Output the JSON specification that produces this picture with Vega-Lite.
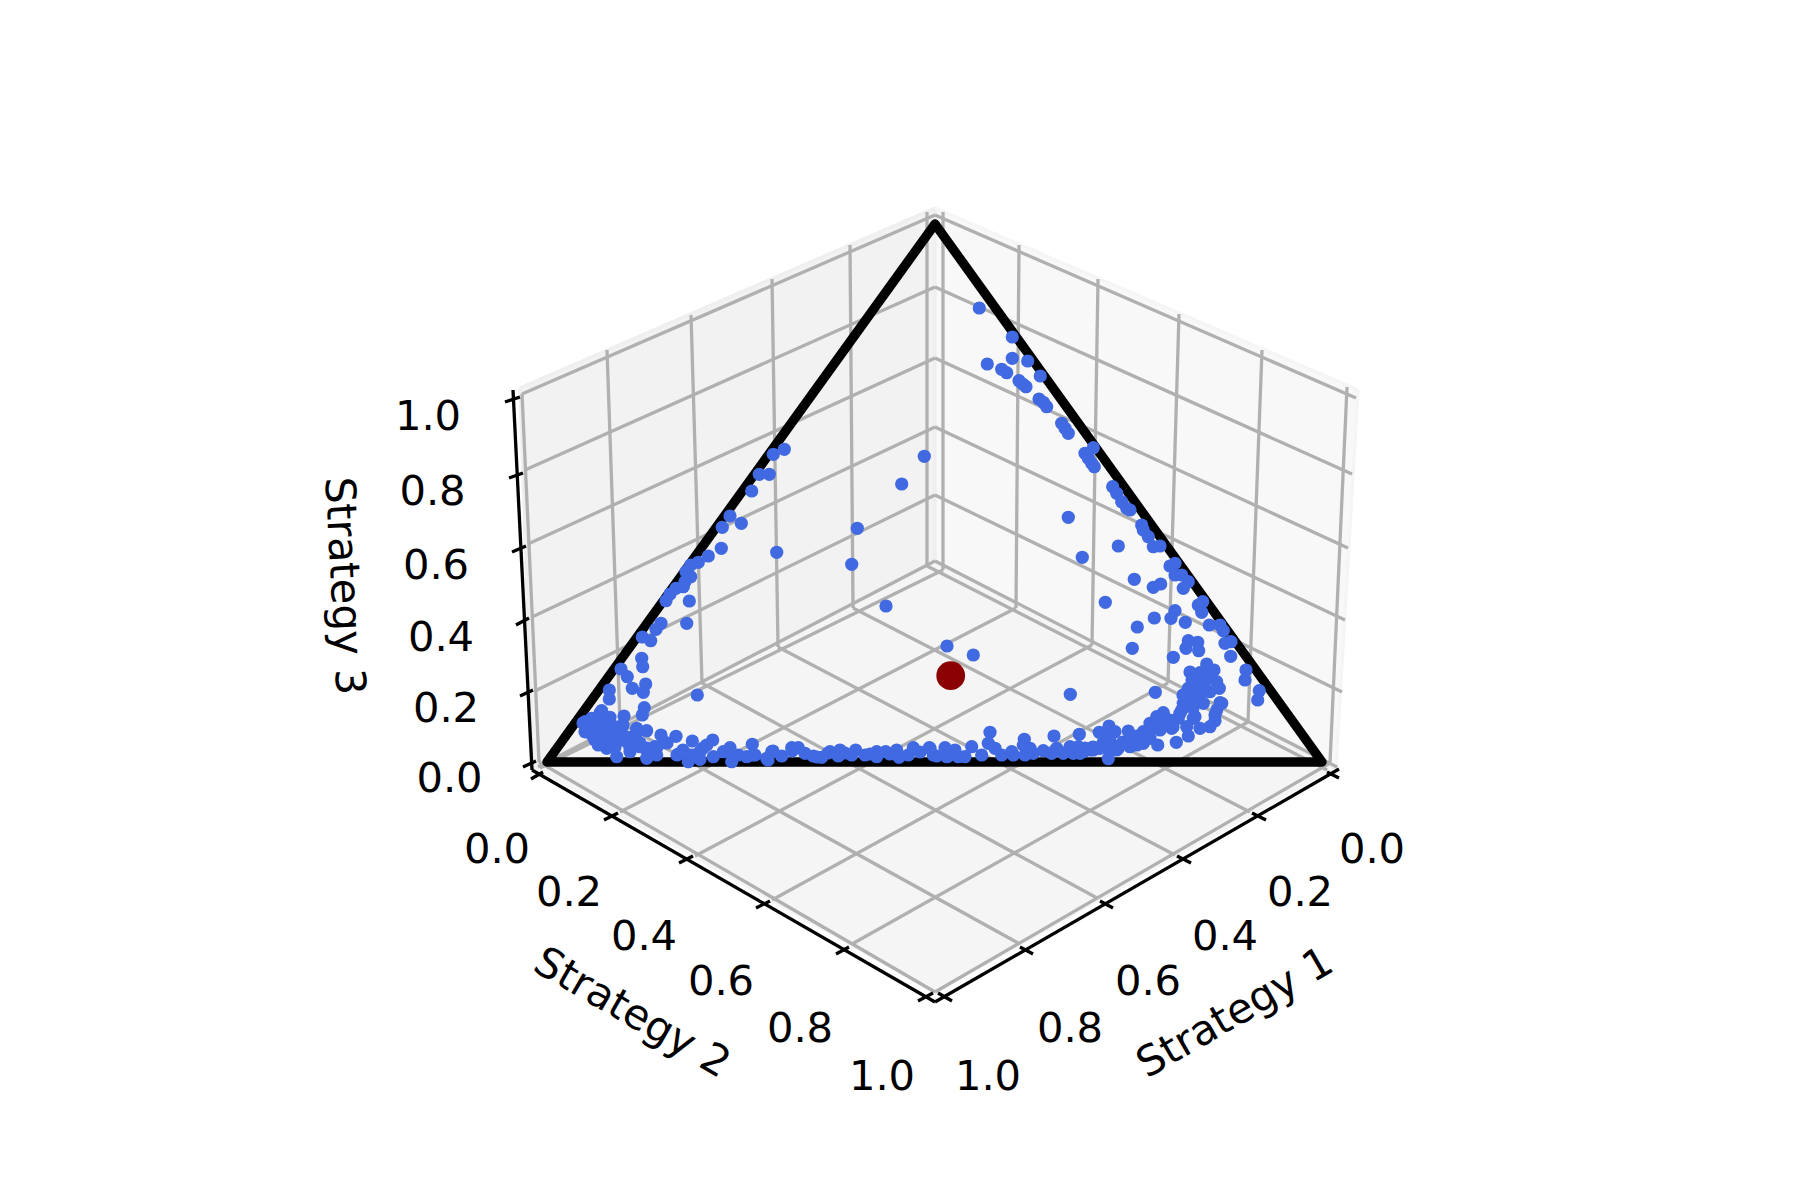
{"$schema":"https://vega.github.io/schema/vega-lite/v6.json","width":1800,"height":1200,"padding":0,"autosize":{"type":"fit","contains":"padding"},"background":"#ffffff","config":{"view":{"stroke":null}},
"datasets":{
"grid":[{"x":522,"y":394,"x2":935,"y2":215},{"x":525,"y":470,"x2":935,"y2":287},{"x":528,"y":544,"x2":935,"y2":358},{"x":532,"y":617,"x2":935,"y2":427},{"x":535,"y":691,"x2":935,"y2":495},{"x":538,"y":767,"x2":935,"y2":561},
{"x":522,"y":394,"x2":539,"y2":762},{"x":607,"y":350,"x2":620,"y2":723},{"x":691,"y":315,"x2":702,"y2":683},{"x":772,"y":279,"x2":778,"y2":647},{"x":850,"y":245,"x2":853,"y2":608},{"x":927,"y":212,"x2":927,"y2":566},
{"x":935,"y":215,"x2":1356,"y2":398},{"x":935,"y":287,"x2":1352,"y2":474},{"x":935,"y":358,"x2":1348,"y2":548},{"x":935,"y":427,"x2":1345,"y2":620},{"x":935,"y":495,"x2":1342,"y2":692},{"x":935,"y":561,"x2":1337,"y2":767},
{"x":943,"y":212,"x2":943,"y2":570},{"x":1019,"y":245,"x2":1016,"y2":608},{"x":1098,"y":279,"x2":1092,"y2":645},{"x":1179,"y":314,"x2":1168,"y2":683},{"x":1262,"y":350,"x2":1248,"y2":722},{"x":1347,"y":387,"x2":1330,"y2":763},
{"x":1327,"y":770,"x2":927,"y2":566},{"x":1250,"y":812,"x2":853,"y2":608},{"x":1175,"y":855,"x2":778,"y2":647},{"x":1097,"y":898,"x2":702,"y2":683},{"x":1018,"y":943,"x2":620,"y2":723},{"x":935,"y":992,"x2":539,"y2":762},
{"x":540,"y":768,"x2":943,"y2":570},{"x":620,"y":812,"x2":1016,"y2":608},{"x":695,"y":856,"x2":1092,"y2":645},{"x":772,"y":900,"x2":1168,"y2":683},{"x":852,"y":944,"x2":1248,"y2":722},{"x":935,"y":992,"x2":1330,"y2":763}],
"paneEdges":[{"x":520,"y":388,"x2":935,"y2":208},{"x":520,"y":388,"x2":533,"y2":768},{"x":935,"y":208,"x2":935,"y2":561},{"x":533,"y":768,"x2":935,"y2":561},{"x":935,"y":561,"x2":1336,"y2":768}],
"paneEdgesRight":[{"x":935,"y":208,"x2":1358,"y2":390},{"x":1358,"y":390,"x2":1336,"y2":768}],
"axes":[{"x":513,"y":390,"x2":532,"y2":770},{"x":532,"y":770,"x2":935,"y2":1002},{"x":935,"y":1002,"x2":1339,"y2":769},
{"x":505,"y":402,"x2":520,"y2":397},{"x":509,"y":478,"x2":523,"y2":473},{"x":512,"y":552,"x2":526,"y2":546},{"x":516,"y":625,"x2":529,"y2":618},{"x":520,"y":696,"x2":533,"y2":690},{"x":523,"y":767,"x2":536,"y2":761},
{"x":531,"y":779,"x2":543,"y2":772},{"x":604,"y":820,"x2":618,"y2":813},{"x":679,"y":863,"x2":693,"y2":856},{"x":756,"y":908,"x2":770,"y2":901},{"x":836,"y":954,"x2":849,"y2":947},{"x":918,"y":1001,"x2":933,"y2":993},
{"x":938,"y":993,"x2":952,"y2":1001},{"x":1020,"y":947,"x2":1033,"y2":954},{"x":1100,"y":901,"x2":1113,"y2":908},{"x":1177,"y":856,"x2":1191,"y2":863},{"x":1252,"y":813,"x2":1266,"y2":820},{"x":1327,"y":772,"x2":1339,"y2":778}],
"simplex":[{"i":1,"x":547,"y":762},{"i":2,"x":1322,"y":762},{"i":3,"x":935,"y":224},{"i":4,"x":547,"y":762}],
"tickLabels":[{"label":"1.0","x":428,"y":416},{"label":"0.8","x":432.5,"y":490.5},{"label":"0.6","x":436,"y":565},{"label":"0.4","x":441,"y":637},{"label":"0.2","x":446,"y":708},{"label":"0.0","x":449.5,"y":778},
{"label":"0.0","x":497,"y":849},{"label":"0.2","x":569,"y":892},{"label":"0.4","x":644,"y":936},{"label":"0.6","x":721,"y":981},{"label":"0.8","x":800,"y":1028},{"label":"1.0","x":882,"y":1076},
{"label":"0.0","x":1372,"y":849},{"label":"0.2","x":1300,"y":892},{"label":"0.4","x":1225,"y":936},{"label":"0.6","x":1148,"y":981},{"label":"0.8","x":1070,"y":1028},{"label":"1.0","x":988,"y":1076}],
"points":[{"x":784.3,"y":449.3},{"x":773.3,"y":454.3},{"x":769.3,"y":474.3},{"x":759.3,"y":474.3},{"x":751.7,"y":491},{"x":924.3,"y":456.3},{"x":901.7,"y":484},
{"x":979.3,"y":308},{"x":1012.3,"y":337},{"x":1012.3,"y":358.3},{"x":1027.7,"y":361},{"x":987.3,"y":364},{"x":1001.7,"y":369.3},{"x":1006.7,"y":372.7},{"x":1019,"y":380.7},{"x":1022.7,"y":384},{"x":1026,"y":386.7},{"x":1040.3,"y":376},{"x":1039,"y":399},{"x":1043.3,"y":402.3},{"x":1046.7,"y":406.7},{"x":1061.7,"y":423.3},{"x":1065,"y":428.3},{"x":1068.3,"y":433.3},{"x":1093.3,"y":447.7},{"x":1085,"y":453.3},{"x":1088.3,"y":458.3},{"x":1091.7,"y":463.3},{"x":1094.3,"y":466.7},{"x":1112.7,"y":486.7},
{"x":730,"y":516},{"x":741.3,"y":523.3},{"x":722.3,"y":527.3},{"x":721.3,"y":548.3},{"x":708.3,"y":556},{"x":698.3,"y":562.3},{"x":690.7,"y":565},{"x":686,"y":571.7},{"x":690.7,"y":576.7},{"x":685,"y":581.7},{"x":683.3,"y":586.7},{"x":676,"y":588.3},{"x":670,"y":594},{"x":666,"y":600.7},{"x":689.3,"y":601},{"x":686.7,"y":623.3},{"x":661,"y":623.3},{"x":656,"y":629.3},{"x":642.3,"y":637},{"x":650.7,"y":640.7},{"x":641.7,"y":658.3},{"x":642.7,"y":666.7},{"x":621,"y":669},{"x":627.3,"y":676.7},{"x":645.7,"y":684},{"x":632.3,"y":688.3},{"x":643.3,"y":692.3},{"x":609.3,"y":690},{"x":609.3,"y":699},{"x":697.3,"y":695},{"x":644.3,"y":707.7},{"x":642.3,"y":715},{"x":601.7,"y":710.7},{"x":624,"y":716},
{"x":585,"y":721.7},{"x":591.7,"y":718.3},{"x":598.3,"y":718.3},{"x":610,"y":717.3},{"x":585,"y":731.7},{"x":593.3,"y":726.7},{"x":603.3,"y":725},{"x":613.3,"y":726.7},{"x":621.7,"y":727.3},{"x":593.3,"y":736.7},{"x":603.3,"y":735},{"x":613.3,"y":738.3},{"x":598.3,"y":745},{"x":606.7,"y":748.3},{"x":615,"y":743.3},{"x":616.7,"y":756.7},{"x":621.7,"y":736.7},{"x":636.7,"y":728.3},{"x":646.7,"y":730.7},{"x":633.3,"y":736.7},{"x":628.3,"y":743.3},{"x":631.7,"y":746.7},{"x":630,"y":751.7},{"x":640,"y":746.7},{"x":646.7,"y":750},{"x":646.7,"y":758.3},{"x":656.7,"y":755},{"x":655,"y":746.7},{"x":665,"y":742.3},{"x":661,"y":735},{"x":676,"y":736.3},{"x":678.3,"y":754},{"x":683.3,"y":751.7},{"x":692.3,"y":741},{"x":688.3,"y":761.7},{"x":690,"y":755},{"x":700,"y":759.3},{"x":700,"y":751.7},{"x":706.7,"y":745},{"x":712.7,"y":740},{"x":713.3,"y":756.7},{"x":723.3,"y":751.7},{"x":730,"y":747.7},{"x":731.7,"y":761.7},{"x":738.3,"y":755},{"x":746.7,"y":756.7},{"x":752.3,"y":744.3},{"x":755,"y":755},{"x":766.7,"y":758.3},{"x":771.7,"y":751.7},{"x":781.7,"y":756},{"x":791.7,"y":747.7},{"x":798.3,"y":747.7},{"x":805,"y":753.3},{"x":813.3,"y":756},{"x":821.7,"y":757.3},{"x":830,"y":751.7},{"x":840,"y":750},{"x":838.3,"y":756},{"x":851.7,"y":755},{"x":855.7,"y":750},{"x":865,"y":755},{"x":876.7,"y":751.7},{"x":876.7,"y":756.7},{"x":885.7,"y":751.7},{"x":896.7,"y":750},{"x":899,"y":757.3},{"x":908.3,"y":755},{"x":913.3,"y":747.7},{"x":929.3,"y":747.7},{"x":933.3,"y":755},{"x":945,"y":747.7},{"x":946.7,"y":756.7},{"x":857.3,"y":528.3},{"x":851.7,"y":564.3},{"x":776.7,"y":552.3},{"x":886,"y":606},{"x":947,"y":646},
{"x":590,"y":723},{"x":600,"y":713},{"x":583,"y":723},{"x":587,"y":732},{"x":597,"y":730},{"x":607,"y":727},{"x":617,"y":727},{"x":623,"y":725},{"x":595,"y":740},{"x":603,"y":743},{"x":610,"y":740},{"x":615,"y":747},{"x":622,"y":740},{"x":627,"y":737},{"x":630,"y":748},{"x":637,"y":732},{"x":640,"y":743},{"x":647,"y":748},{"x":657,"y":747},{"x":667,"y":743},{"x":677,"y":755},{"x":683,"y":750},{"x":693,"y":755},{"x":703,"y":748},{"x":733,"y":755},{"x":753,"y":755},{"x":768,"y":760},{"x":773,"y":751},{"x":792,"y":751},{"x":817,"y":757},{"x":828,"y":753},{"x":845,"y":753},{"x":870,"y":754},{"x":890,"y":754},{"x":920,"y":752},
{"x":973.3,"y":655},{"x":1070.3,"y":694.3},{"x":1068.3,"y":517.3},{"x":1082.3,"y":557.3},{"x":1118.3,"y":546},{"x":1134.3,"y":579.3},{"x":1105.3,"y":602.3},{"x":1137.3,"y":627},{"x":1154.3,"y":618},{"x":1132.3,"y":648.3},{"x":1173.3,"y":657.3},{"x":1155.3,"y":692.3},
{"x":1116.7,"y":493.3},{"x":1121.7,"y":501.7},{"x":1126.7,"y":508.3},{"x":1130,"y":510},{"x":1141.7,"y":525},{"x":1143.3,"y":530},{"x":1148.3,"y":536.7},{"x":1153.3,"y":546.7},{"x":1160,"y":546},{"x":1170,"y":566},{"x":1175,"y":563.3},{"x":1175,"y":575},{"x":1181.7,"y":575},{"x":1188.3,"y":581.7},{"x":1183.3,"y":588.3},{"x":1153.3,"y":587.3},{"x":1160.7,"y":584},{"x":1202.7,"y":601.7},{"x":1198.3,"y":605},{"x":1201.7,"y":612.3},{"x":1175,"y":610.7},{"x":1171,"y":618.3},{"x":1185.3,"y":622.3},{"x":1209.3,"y":625},{"x":1220,"y":625},{"x":1223.3,"y":630.7},{"x":1231,"y":641.7},{"x":1225,"y":643.3},{"x":1230.7,"y":656.3},{"x":1188.3,"y":640.7},{"x":1197.7,"y":642.3},{"x":1186,"y":648.3},{"x":1198.7,"y":650.7},{"x":1246,"y":670},{"x":1245,"y":680},{"x":1259.3,"y":690.7},{"x":1257.7,"y":700},
{"x":1206.7,"y":664},{"x":1214,"y":670},{"x":1200,"y":672.7},{"x":1195,"y":678.3},{"x":1216.7,"y":681.7},{"x":1219.3,"y":688.3},{"x":1188.3,"y":688.3},{"x":1203.3,"y":691.7},{"x":1196.7,"y":686.7},{"x":1185,"y":696.7},{"x":1220,"y":702.7},{"x":1216.7,"y":710},{"x":1183.3,"y":703.3},{"x":1191.7,"y":700},{"x":1203.3,"y":703.3},{"x":1181.7,"y":710},{"x":1193.3,"y":718.3},{"x":1215,"y":720.7},{"x":1210,"y":726.7},{"x":1200,"y":728.3},{"x":1186.7,"y":726.7},{"x":1188.3,"y":736},{"x":1163.3,"y":712.7},{"x":1156.7,"y":716.7},{"x":1150,"y":723.3},{"x":1166.7,"y":720},{"x":1178.3,"y":718.3},{"x":1171.7,"y":728.3},{"x":1160,"y":730},{"x":1143.3,"y":731.7},{"x":1128.3,"y":731},{"x":1136.7,"y":736},{"x":1150,"y":738.3},{"x":1176.3,"y":742.3},{"x":1157.7,"y":745},{"x":1143.3,"y":743.3},{"x":1130,"y":746.7},{"x":1116.7,"y":750},{"x":1109,"y":726},{"x":1115,"y":731.7},{"x":1099.3,"y":732.3},{"x":1079.3,"y":734.3},{"x":1054,"y":736},{"x":1024.3,"y":739.3},{"x":990,"y":732.3},{"x":988.3,"y":743.3},
{"x":1205,"y":676.7},{"x":1210,"y":691.7},{"x":1195,"y":695},{"x":1186.7,"y":700},{"x":1221.7,"y":703.3},{"x":1205,"y":681},{"x":1180,"y":713.3},{"x":1195,"y":716.7},{"x":1215,"y":715},{"x":1170,"y":720},{"x":1160,"y":726.7},{"x":1146.7,"y":733.3},{"x":1141.7,"y":740},{"x":1118.3,"y":748.3},{"x":1110,"y":736.7},{"x":1100,"y":748.3},{"x":1090,"y":750},{"x":1080,"y":753.3},{"x":1193,"y":708},{"x":1183,"y":695},{"x":1173,"y":727},{"x":1123,"y":742},{"x":1137,"y":745},{"x":1113,"y":745},{"x":1103,"y":743},{"x":1093,"y":747},{"x":1085,"y":748},{"x":1165,"y":724},{"x":1153,"y":727},{"x":1190,"y":672},{"x":1210,"y":675},{"x":1192,"y":680},
{"x":1108.3,"y":758.7},{"x":1108.3,"y":748.3},{"x":1103.3,"y":746.7},{"x":1093.3,"y":750},{"x":1083.3,"y":751.7},{"x":1073.3,"y":753.3},{"x":1078.3,"y":746.7},{"x":1070,"y":746.7},{"x":1063.3,"y":753.3},{"x":1056.7,"y":748.3},{"x":1051.7,"y":753.3},{"x":1043.3,"y":750.7},{"x":1033.3,"y":753.3},{"x":1030,"y":748.3},{"x":1025,"y":755},{"x":1023.3,"y":745},{"x":1013.3,"y":755},{"x":1011.7,"y":751.7},{"x":1001.7,"y":755},{"x":995,"y":748.3},{"x":981.7,"y":755},{"x":971.7,"y":746.7},{"x":965,"y":756.7},{"x":955,"y":750},{"x":958.3,"y":756.7},{"x":948.3,"y":756},{"x":936.7,"y":756},{"x":930,"y":748.3},{"x":1108,"y":740},{"x":1123,"y":743},{"x":1133,"y":742},{"x":1143,"y":737},{"x":1097,"y":748}]
},
"encoding":{"x":{"field":"x","type":"quantitative","axis":null,"scale":{"domain":[0,1800],"nice":false,"zero":false}},"y":{"field":"y","type":"quantitative","axis":null,"scale":{"domain":[1200,0],"nice":false,"zero":false}}},
"layer":[
{"data":{"values":[{"x":520,"y":388,"y2":388},{"x":533,"y":382,"y2":768},{"x":935,"y":208,"y2":561}]},"mark":{"type":"area","orient":"vertical","color":"#f2f2f2"},"encoding":{"y2":{"field":"y2"}}},
{"data":{"values":[{"x":935,"y":208,"y2":561},{"x":1336,"y":381,"y2":768},{"x":1358,"y":390,"y2":390}]},"mark":{"type":"area","orient":"vertical","color":"#f8f8f8"},"encoding":{"y2":{"field":"y2"}}},
{"data":{"values":[{"x":533,"y":768,"y2":768},{"x":935,"y":561,"y2":994},{"x":1336,"y":768,"y2":768}]},"mark":{"type":"area","orient":"vertical","color":"#f5f5f5"},"encoding":{"y2":{"field":"y2"}}},
{"data":{"name":"paneEdges"},"mark":{"type":"rule","color":"#efefef","strokeWidth":3.3},"encoding":{"x2":{"field":"x2"},"y2":{"field":"y2"}}},
{"data":{"name":"paneEdgesRight"},"mark":{"type":"rule","color":"#f5f5f5","strokeWidth":3.3},"encoding":{"x2":{"field":"x2"},"y2":{"field":"y2"}}},
{"data":{"name":"grid"},"mark":{"type":"rule","color":"#b0b0b0","strokeWidth":3.3},"encoding":{"x2":{"field":"x2"},"y2":{"field":"y2"}}},
{"data":{"name":"axes"},"mark":{"type":"rule","color":"#000000","strokeWidth":3.3},"encoding":{"x2":{"field":"x2"},"y2":{"field":"y2"}}},
{"data":{"name":"simplex"},"mark":{"type":"line","color":"#000000","strokeWidth":9.4,"strokeJoin":"round","strokeCap":"round"},"encoding":{"order":{"field":"i"}}},
{"data":{"name":"points"},"mark":{"type":"circle","color":"#4169e1","opacity":1,"size":175}},
{"data":{"values":[{"x":950.7,"y":675.7}]},"mark":{"type":"circle","color":"#8b0000","opacity":1,"size":824}},
{"data":{"name":"tickLabels"},"mark":{"type":"text","font":"DejaVu Sans","fontSize":41.67,"color":"#000000","align":"center","baseline":"middle","dy":1},"encoding":{"text":{"field":"label"}}},
{"data":{"values":[{"label":"Strategy 1","x":1235,"y":1013}]},"mark":{"type":"text","font":"DejaVu Sans","fontSize":41.67,"color":"#000000","align":"center","baseline":"middle","angle":330},"encoding":{"text":{"field":"label"}}},
{"data":{"values":[{"label":"Strategy 2","x":632,"y":1013}]},"mark":{"type":"text","font":"DejaVu Sans","fontSize":41.67,"color":"#000000","align":"center","baseline":"middle","angle":30},"encoding":{"text":{"field":"label"}}},
{"data":{"values":[{"label":"Strategy 3","x":344,"y":586}]},"mark":{"type":"text","font":"DejaVu Sans","fontSize":41.67,"color":"#000000","align":"center","baseline":"middle","angle":87},"encoding":{"text":{"field":"label"}}}
]}
